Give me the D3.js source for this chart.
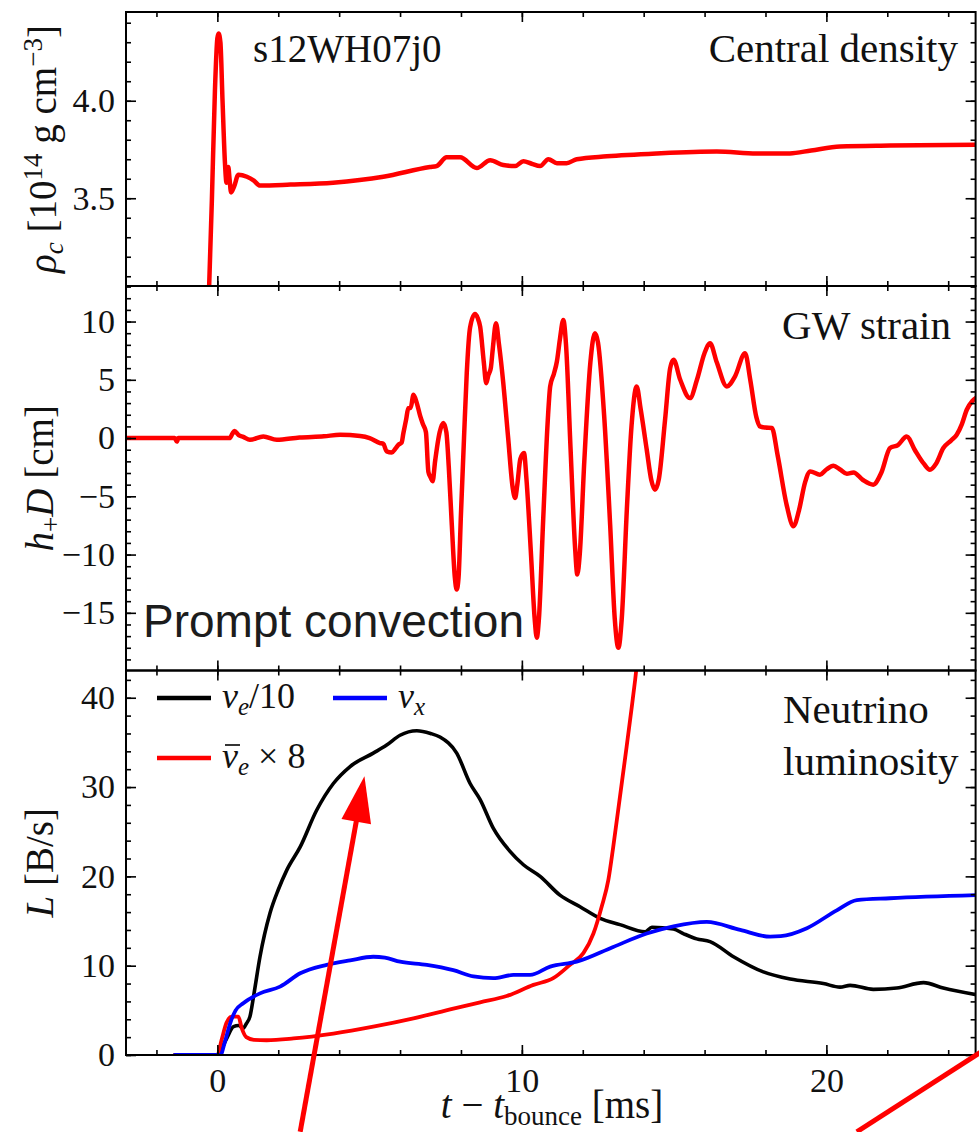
<!DOCTYPE html>
<html>
<head>
<meta charset="utf-8">
<script src="https://cdn.jsdelivr.net/npm/d3@7"></script>
<style>
  body { margin: 0; background: #fff; }
  svg { display: block; }
</style>
</head>
<body>
<svg id="chart" width="979" height="1132"></svg>
<script>
// ---- time axis (ms after bounce) ----
const tDomain = [-3, 24.9];
const tMajorTicks = [0, 10, 20];
const tMinorTicks = d3.range(-2, 25, 2);

// ---- central density [1e14 g/cm^3] ----
const rhoTime = [-0.3, -0.18, -0.08, 0.0, 0.04, 0.1, 0.17, 0.25, 0.3, 0.36, 0.4, 0.45, 0.55, 0.69, 0.97, 1.2, 1.4, 2.4, 3.8, 5.45, 6.98, 7.2, 7.53, 7.97, 8.52, 8.96, 9.39, 9.78, 10.05, 10.32, 10.6, 10.87, 11.15, 11.47, 11.8, 12.79, 14.43, 16.4, 17.71, 18.8, 19.5, 20.45, 22.09, 25.0];
const rhoValue = [2.9, 3.49, 4.05, 4.32, 4.345, 4.3, 4.0, 3.68, 3.58, 3.66, 3.6, 3.53, 3.56, 3.62, 3.61, 3.59, 3.565, 3.57, 3.58, 3.61, 3.66, 3.665, 3.71, 3.71, 3.655, 3.695, 3.67, 3.665, 3.69, 3.677, 3.665, 3.70, 3.68, 3.68, 3.70, 3.715, 3.73, 3.74, 3.73, 3.73, 3.745, 3.765, 3.77, 3.775];
const rhoMajorTicks = [3.5, 4.0];
const rhoMinorTicks = d3.range(31, 45).map(v => v / 10);

// ---- GW strain h+ D [cm] ----
const gwTime = [-3, -1.4, -1.33, -1.28, 0.4, 0.5, 0.56, 0.7, 0.85, 1.07, 1.51, 1.95, 2.7, 3.5, 4.03, 4.69, 5.0, 5.34, 5.45, 5.56, 5.73, 5.85, 5.95, 6.05, 6.11, 6.2, 6.27, 6.35, 6.44, 6.55, 6.66, 6.75, 6.85, 6.93, 6.99, 7.07, 7.15, 7.3, 7.42, 7.52, 7.6, 7.7, 7.8, 7.86, 7.92, 8.0, 8.1, 8.19, 8.3, 8.46, 8.55, 8.63, 8.75, 8.83, 8.9, 8.98, 9.05, 9.15, 9.25, 9.39, 9.55, 9.7, 9.78, 9.85, 9.95, 10.07, 10.15, 10.3, 10.42, 10.49, 10.56, 10.7, 10.85, 10.93, 11.05, 11.15, 11.25, 11.36, 11.45, 11.6, 11.75, 11.82, 11.9, 12.05, 12.25, 12.4, 12.5, 12.7, 12.9, 13.05, 13.17, 13.28, 13.45, 13.6, 13.77, 13.9, 14.1, 14.25, 14.37, 14.5, 14.7, 14.87, 14.98, 15.2, 15.52, 15.75, 16.0, 16.18, 16.4, 16.73, 17.0, 17.33, 17.5, 17.7, 17.82, 18.0, 18.21, 18.4, 18.7, 18.92, 19.1, 19.3, 19.47, 19.79, 20.0, 20.23, 20.45, 20.67, 20.89, 21.2, 21.54, 21.8, 22.09, 22.35, 22.64, 22.9, 23.2, 23.4, 23.6, 23.84, 24.1, 24.28, 24.45, 24.61, 24.8, 25.0];
const gwValue = [0, 0, -0.3, 0, 0, 0.4, 0.6, 0.25, 0.1, -0.15, 0.14, -0.15, 0.05, 0.15, 0.28, 0.18, 0.0, -0.43, -0.5, -1.14, -1.23, -0.9, -0.57, -0.4, 0.43, 1.6, 2.57, 2.6, 3.71, 3.0, 1.9, 1.2, 0.5, -2.9, -3.3, -3.7, -2.0, 0.5, 1.3, 0.5, -2.5, -7.5, -12.0, -13.0, -12.0, -6.5, 0.0, 5.57, 9.5, 10.65, 10.3, 9.56, 6.5, 4.71, 5.4, 6.0, 7.8, 9.85, 8.0, 4.71, 0.0, -4.3, -5.14, -4.0, -1.8, -1.29, -3.5, -10.0, -15.5, -17.14, -15.5, -7.0, 1.5, 4.43, 5.5, 6.57, 8.5, 10.14, 8.0, -1.0, -9.5, -11.71, -10.0, -2.0, 6.5, 9.0, 8.2, 2.0, -7.5, -15.5, -18.0, -15.5, -6.0, 1.0, 4.43, 2.5, -1.0, -3.6, -4.43, -3.5, 1.5, 6.0, 6.71, 5.0, 3.43, 5.0, 7.3, 8.14, 6.5, 4.43, 5.3, 7.28, 5.0, 1.8, 1.0, 0.9, 0.86, -1.5, -5.8, -7.57, -6.2, -3.8, -2.86, -3.14, -2.7, -2.37, -2.7, -3.06, -2.95, -3.6, -4.0, -3.0, -0.86, -0.6, 0.14, -1.0, -2.2, -2.72, -2.2, -0.86, -0.2, 0.29, 1.2, 2.43, 3.2, 3.57];
const gwMajorTicks = [-15, -10, -5, 0, 5, 10];
const gwMinorTicks = d3.range(-19, 14, 1);

// ---- neutrino luminosities [B/s] ----
const nueTime = [-1.4, 0.0, 0.09, 0.3, 0.53, 0.7, 0.85, 0.95, 1.07, 1.2, 1.4, 1.73, 2.0, 2.28, 2.72, 3.26, 3.81, 4.36, 5.12, 5.56, 6.0, 6.55, 7.0, 7.31, 7.86, 8.3, 8.63, 9.06, 9.61, 10.05, 10.6, 11.25, 11.91, 12.57, 13.22, 14.05, 14.27, 14.98, 15.3, 15.74, 16.18, 16.95, 17.93, 18.81, 19.9, 20.45, 20.78, 21.54, 22.31, 23.19, 23.84, 25.0];
const nueValue = [0, 0, 0.4, 1.8, 3.17, 3.3, 3.0, 3.5, 4.3, 6.8, 11.0, 15.9, 18.5, 20.7, 23.3, 27.4, 30.4, 32.3, 33.8, 34.7, 35.8, 36.3, 36.0, 35.6, 33.8, 30.4, 28.6, 25.4, 22.8, 21.3, 20.0, 17.9, 16.6, 15.3, 14.6, 13.8, 14.3, 14.1, 13.6, 13.0, 12.7, 11.0, 9.3, 8.5, 8.0, 7.6, 7.8, 7.35, 7.5, 8.1, 7.5, 6.7];
const nuxTime = [-1.4, 0.1, 0.25, 0.42, 0.6, 0.85, 1.4, 2.06, 2.72, 3.59, 4.36, 5.12, 5.5, 6.0, 6.88, 7.75, 8.41, 9.06, 9.72, 10.27, 10.93, 11.8, 13.0, 14.1, 14.98, 16.07, 17.17, 18.15, 18.5, 19.36, 20.34, 21.0, 22.09, 25.0];
const nuxValue = [0, 0, 1.5, 3.55, 5.0, 5.8, 6.9, 7.65, 9.15, 10.1, 10.6, 11.0, 10.9, 10.45, 10.1, 9.5, 8.8, 8.6, 8.96, 8.96, 9.9, 10.45, 12.1, 13.6, 14.4, 14.9, 14.0, 13.25, 13.3, 14.2, 16.2, 17.35, 17.55, 17.9];
const anueTime = [-1.4, 0.0, 0.14, 0.3, 0.47, 0.69, 0.8, 0.95, 1.2, 1.62, 2.5, 3.81, 5.12, 6.44, 7.75, 8.63, 9.5, 10.38, 11.03, 11.58, 12.02, 12.35, 12.62, 12.84, 13.0, 13.22, 13.44, 13.61, 13.72, 13.85];
const anueValue = [0, 0, 1.7, 3.6, 4.3, 4.3, 3.0, 2.0, 1.7, 1.65, 1.85, 2.4, 3.17, 4.1, 5.2, 5.9, 6.6, 7.85, 8.6, 10.1, 11.4, 13.6, 16.6, 19.6, 23.3, 28.9, 34.5, 39.0, 42.0, 46.0];
const lumMajorTicks = [0, 10, 20, 30, 40];
const lumMinorTicks = d3.range(0, 43, 2);

// ---- annotation arrows, in (ms, B/s) of the luminosity panel ----
const arrowFrom = [[2.72, -8.6], [21.0, -8.6]];
const arrowTo = [[4.83, 31.2], [25.7, 1.7]];
const arrowHasHead = [true, false];

const RED = '#ff0000', BLUE = '#0000ff', BLACK = '#000000';
const SERIF = '"Liberation Serif", "Times New Roman", serif';
const SANS = '"Liberation Sans", Arial, sans-serif';

const svg = d3.select('#chart');
svg.append('rect').attr('width', 979).attr('height', 1132).attr('fill', '#fff');

const xLeft = 126, xRight = 975.6;
const x = d3.scaleLinear(tDomain, [xLeft, xRight]);

const panels = [
  { id: 'rho', y0: 12, y1: 286, domain: [3.05, 4.455], major: rhoMajorTicks, minor: rhoMinorTicks, fmt: d3.format('.1f') },
  { id: 'gw', y0: 286, y1: 670.5, domain: [-19.95, 13.05], major: gwMajorTicks, minor: gwMinorTicks, fmt: d3.format('d') },
  { id: 'lum', y0: 670.5, y1: 1055, domain: [0, 43.05], major: lumMajorTicks, minor: lumMinorTicks, fmt: d3.format('d') }
];
panels.forEach(p => { p.y = d3.scaleLinear(p.domain, [p.y1, p.y0]); });

const defs = svg.append('defs');
panels.forEach(p => {
  defs.append('clipPath').attr('id', 'clip-' + p.id)
    .append('rect').attr('x', xLeft).attr('y', p.y0)
    .attr('width', xRight - xLeft).attr('height', p.y1 - p.y0);
});

function zip(ts, vs) { return ts.map((t, i) => [t, vs[i]]); }

function drawSeries(p, ts, vs, color, width) {
  const line = d3.line().x(d => x(d[0])).y(d => p.y(d[1])).curve(d3.curveMonotoneX);
  svg.append('path')
    .attr('clip-path', 'url(#clip-' + p.id + ')')
    .attr('d', line(zip(ts, vs)))
    .attr('fill', 'none').attr('stroke', color).attr('stroke-width', width)
    .attr('stroke-linejoin', 'round').attr('stroke-linecap', 'round');
}

const [pRho, pGw, pLum] = panels;
drawSeries(pRho, rhoTime, rhoValue, RED, 4.5);
drawSeries(pGw, gwTime, gwValue, RED, 4.5);
drawSeries(pLum, nueTime, nueValue, BLACK, 3.6);
drawSeries(pLum, anueTime, anueValue, RED, 3.8);
drawSeries(pLum, nuxTime, nuxValue, BLUE, 3.8);

// inward ticks on all four sides of each panel
function tickGroup(axis, transform, size, values, fmt) {
  axis.tickValues(values).tickSizeInner(-size).tickSizeOuter(0).tickPadding(11)
    .tickFormat(fmt || (() => ''));
  const g = svg.append('g').attr('transform', transform).call(axis);
  g.select('.domain').remove();
  g.selectAll('line').attr('stroke', '#000').attr('stroke-width', 1.6);
  g.selectAll('text').attr('font-family', SERIF).attr('font-size', 34).attr('fill', '#111');
  return g;
}

panels.forEach((p, i) => {
  tickGroup(d3.axisLeft(p.y), `translate(${xLeft},0)`, 5, p.minor);
  tickGroup(d3.axisLeft(p.y), `translate(${xLeft},0)`, 10, p.major, p.fmt);
  tickGroup(d3.axisRight(p.y), `translate(${xRight},0)`, 5, p.minor);
  tickGroup(d3.axisRight(p.y), `translate(${xRight},0)`, 10, p.major);
  tickGroup(d3.axisTop(x), `translate(0,${p.y0})`, 5, tMinorTicks);
  tickGroup(d3.axisTop(x), `translate(0,${p.y0})`, 10, tMajorTicks);
  tickGroup(d3.axisBottom(x), `translate(0,${p.y1})`, 5, tMinorTicks);
  const bottom = tickGroup(d3.axisBottom(x), `translate(0,${p.y1})`, 10, tMajorTicks,
    i === 2 ? d3.format('d') : null);
  if (i === 2) bottom.selectAll('text').attr('dy', '0.72em').attr('y', 13);
  svg.append('rect').attr('x', xLeft).attr('y', p.y0)
    .attr('width', xRight - xLeft).attr('height', p.y1 - p.y0)
    .attr('fill', 'none').attr('stroke', '#000').attr('stroke-width', 2);
});

// text helpers
function richText(parent, parts, attrs) {
  const t = parent.append('text');
  Object.entries(attrs).forEach(([k, v]) => t.attr(k, v));
  parts.forEach(pt => {
    const s = t.append('tspan').text(pt.s);
    if (pt.it) s.attr('font-style', 'italic');
    if (pt.fs) s.attr('font-size', pt.fs);
    if (pt.dy) s.attr('dy', pt.dy);
  });
  return t;
}

// axis labels
const yLabelAttrs = { 'font-family': SERIF, 'font-size': 39, fill: '#111', 'text-anchor': 'middle' };
richText(svg.append('g').attr('transform', `translate(56,${(pRho.y0 + pRho.y1) / 2}) rotate(-90)`), [
  { s: 'ρ', it: true }, { s: 'c', it: true, fs: 27, dy: 7 }, { s: ' [10', dy: -7 },
  { s: '14', fs: 27, dy: -14 }, { s: ' g cm', dy: 14 }, { s: '−3', fs: 27, dy: -14 }, { s: ']', dy: 14 }
], yLabelAttrs);
richText(svg.append('g').attr('transform', `translate(53,${(pGw.y0 + pGw.y1) / 2}) rotate(-90)`), [
  { s: 'h', it: true }, { s: '+', fs: 27, dy: 7 }, { s: 'D', it: true, dy: -7 }, { s: ' [cm]' }
], yLabelAttrs);
richText(svg.append('g').attr('transform', `translate(53,${(pLum.y0 + pLum.y1) / 2}) rotate(-90)`), [
  { s: 'L', it: true }, { s: ' [B/s]' }
], yLabelAttrs);
richText(svg, [
  { s: 't', it: true }, { s: ' − ' }, { s: 't', it: true }, { s: 'bounce', fs: 27, dy: 7 }, { s: ' [ms]', dy: -7 }
], { x: 552, y: 1118, 'font-family': SERIF, 'font-size': 39, fill: '#111', 'text-anchor': 'middle' });

// panel annotations
svg.append('text').attr('x', 253).attr('y', 62).text('s12WH07j0').attr('font-family', SERIF).attr('font-size', 39).attr('fill', '#111');
svg.append('text').attr('x', 958).attr('y', 62).attr('text-anchor', 'end').text('Central density')
  .attr('font-family', SERIF).attr('font-size', 41).attr('fill', '#111');
svg.append('text').attr('x', 951).attr('y', 339).attr('text-anchor', 'end').text('GW strain')
  .attr('font-family', SERIF).attr('font-size', 41).attr('fill', '#111');
svg.append('text').attr('x', 783).attr('y', 723).text('Neutrino')
  .attr('font-family', SERIF).attr('font-size', 41).attr('fill', '#111');
svg.append('text').attr('x', 783).attr('y', 775).text('luminosity')
  .attr('font-family', SERIF).attr('font-size', 41).attr('fill', '#111');
svg.append('text').attr('x', 143).attr('y', 637).text('Prompt convection')
  .attr('font-family', SANS).attr('font-size', 46).attr('fill', '#1c1c1c');

// legend (the anti-neutrino entry gets a bar over its nu)
const legend = svg.append('g');
const legendItems = [
  { color: BLACK, x0: 157, y: 698, bar: false, parts: [{ s: 'ν', it: true }, { s: 'e', it: true, fs: 25, dy: 7 }, { s: '/10', dy: -7 }] },
  { color: BLUE, x0: 333, y: 698, bar: false, parts: [{ s: 'ν', it: true }, { s: 'x', it: true, fs: 25, dy: 7 }] },
  { color: RED, x0: 157, y: 758, bar: true, parts: [{ s: 'ν', it: true }, { s: 'e', it: true, fs: 25, dy: 7 }, { s: ' × 8', dy: -7 }] }
];
legendItems.forEach(it => {
  legend.append('line').attr('x1', it.x0).attr('x2', it.x0 + 54).attr('y1', it.y).attr('y2', it.y)
    .attr('stroke', it.color).attr('stroke-width', 4.5);
  const baseY = it.y + 10;
  const t = richText(legend, it.parts, { x: it.x0 + 65, y: baseY, 'font-family': SERIF, 'font-size': 36, fill: '#111' });
  if (it.bar) {
    const n = t.node();
    const a = n.getStartPositionOfChar(0).x, b = n.getEndPositionOfChar(0).x;
    legend.append('line').attr('x1', a + 3).attr('x2', b + 2)
      .attr('y1', baseY - 23).attr('y2', baseY - 23)
      .attr('stroke', '#111').attr('stroke-width', 1.7);
  }
});

// arrows
arrowFrom.forEach((from, i) => {
  const x1 = x(from[0]), y1 = pLum.y(from[1]);
  const x2 = x(arrowTo[i][0]), y2 = pLum.y(arrowTo[i][1]);
  const dx = x2 - x1, dy = y2 - y1, len = Math.hypot(dx, dy);
  const ux = dx / len, uy = dy / len;
  const headLen = arrowHasHead[i] ? 46 : 0;
  svg.append('line').attr('x1', x1).attr('y1', y1)
    .attr('x2', x2 - ux * headLen * 0.8).attr('y2', y2 - uy * headLen * 0.8)
    .attr('stroke', RED).attr('stroke-width', 5);
  if (arrowHasHead[i]) {
    const bx = x2 - ux * headLen, by = y2 - uy * headLen, hw = 15;
    svg.append('path')
      .attr('d', `M${x2},${y2}L${bx - uy * hw},${by + ux * hw}L${bx + uy * hw},${by - ux * hw}Z`)
      .attr('fill', RED);
  }
});
</script>
</body>
</html>
